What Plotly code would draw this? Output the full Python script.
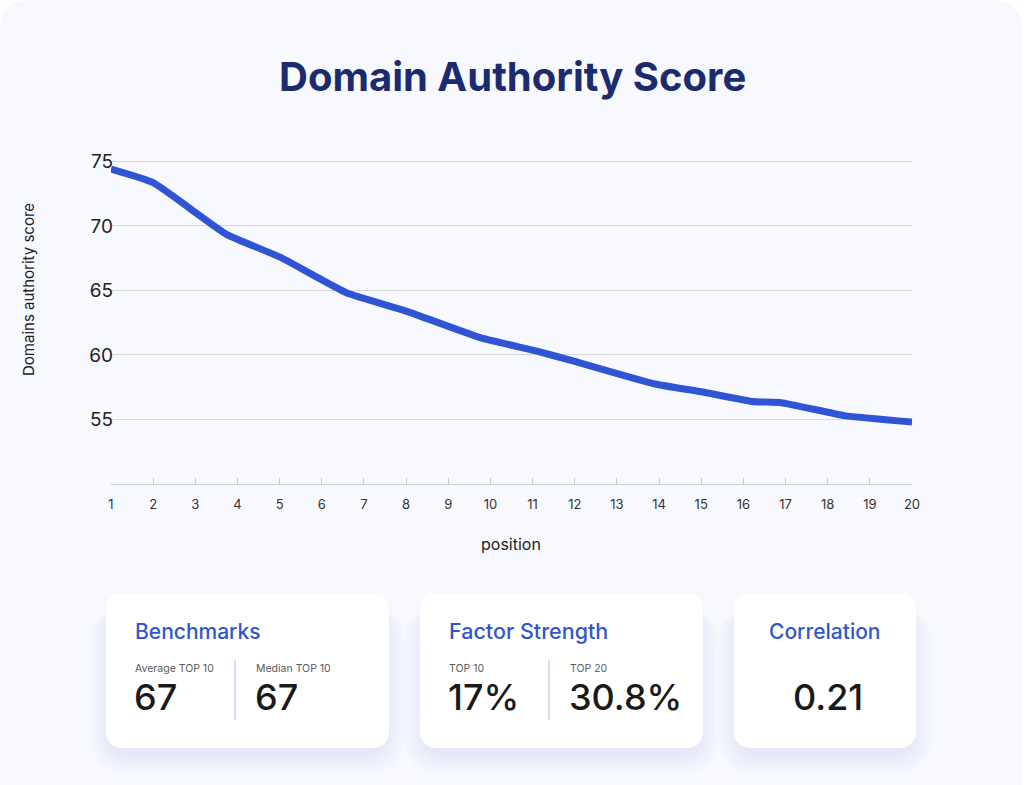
import plotly.graph_objects as go

# ---- data ----
positions = [1, 2, 3.74, 5, 6.6, 8, 9.8, 11.1, 12, 13.9, 15, 16.2, 16.9, 18.4, 20]
scores = [74.4, 73.35, 69.35, 67.6, 64.8, 63.4, 61.3, 60.3, 59.5, 57.75, 57.15, 56.4, 56.3, 55.3, 54.8]
x_ticks = list(range(1, 21))
y_ticks = [55, 60, 65, 70, 75]

title_text = "Domain Authority Score"
y_title = "Domains authority score"
x_title = "position"

card_titles = ["Benchmarks", "Factor Strength", "Correlation"]
bench_labels = ["Average TOP 10", "Median TOP 10"]
bench_values = ["67", "67"]
factor_labels = ["TOP 10", "TOP 20"]
factor_values = ["17%", "30.8%"]
correlation_value = "0.21"

# ---- layout geometry (pixels) ----
W, H = 1024, 785
L, R, T, B = 111, 912, 155, 484
FONT = "Inter"
BLUE = "#2F55D4"


def px(xp):
    return (xp - L) / (R - L)


def py(yp):
    return (B - yp) / (B - T)


def rrect(x0, y0, x1, y1, r):
    # rounded rectangle path in paper coords, given pixel coords
    X0, X1 = px(x0), px(x1)
    Y0, Y1 = py(y0), py(y1)  # Y0 top, Y1 bottom
    rx = r / (R - L)
    ry = r / (B - T)
    return (f"M {X0+rx},{Y0} L {X1-rx},{Y0} Q {X1},{Y0} {X1},{Y0-ry} "
            f"L {X1},{Y1+ry} Q {X1},{Y1} {X1-rx},{Y1} L {X0+rx},{Y1} "
            f"Q {X0},{Y1} {X0},{Y1+ry} L {X0},{Y0-ry} Q {X0},{Y0} {X0+rx},{Y0} Z")


fig = go.Figure()
fig.add_trace(go.Scatter(
    x=positions, y=scores, mode="lines",
    line=dict(color=BLUE, width=7, shape="spline", smoothing=0.4),
    hoverinfo="skip", showlegend=False,
))

shapes = []
# outer background card
shapes.append(dict(type="path", xref="paper", yref="paper", path=rrect(0, 0, 1022, 830, 30),
                   fillcolor="#F7F9FE", line=dict(width=0), layer="below"))

cards = [(106, 593, 389, 748), (420, 593, 703, 748), (734, 593, 916, 748)]
for (x0, y0, x1, y1) in cards:
    for i in range(6):
        g = 2 + i * 4
        shapes.append(dict(type="path", xref="paper", yref="paper",
                           path=rrect(x0 - g + 6, y0 + 14, x1 + g - 6, y1 + g + 4, 18 + g),
                           fillcolor="rgba(175,195,240,0.045)", line=dict(width=0), layer="below"))
    shapes.append(dict(type="path", xref="paper", yref="paper", path=rrect(x0, y0, x1, y1, 18),
                       fillcolor="#FFFFFF", line=dict(width=0), layer="below"))

for xd in (235, 549):
    shapes.append(dict(type="line", xref="paper", yref="paper", x0=px(xd), x1=px(xd),
                       y0=py(660), y1=py(720), line=dict(color="#B8CDEB", width=1.3), layer="below"))

ann = []


def add_text(text, x, y, size, color, xanchor="left", weight="normal"):
    ann.append(dict(text=text, x=px(x), y=py(y), xref="paper", yref="paper",
                    xanchor=xanchor, yanchor="middle", showarrow=False,
                    font=dict(family=FONT, size=size, color=color, weight=weight)))


add_text(title_text, 512, 77, 40, "#1B2B6E", "center", "bold")
ann.append(dict(text=y_title, x=px(28), y=py(290), xref="paper", yref="paper",
                xanchor="center", yanchor="middle", showarrow=False, textangle=-90,
                font=dict(family=FONT, size=15, color="#222222")))
add_text(x_title, 511, 544, 16, "#222222", "center")

CARD_BLUE = "#3157CB"
add_text(card_titles[0], 133, 631, 21, CARD_BLUE, weight=500)
add_text(card_titles[1], 447, 631, 21.5, CARD_BLUE, weight=500)
add_text(card_titles[2], 825, 631, 21, CARD_BLUE, "center", weight=500)

for lbl, val, xx in zip(bench_labels, bench_values, (133, 254)):
    add_text(lbl, xx, 668, 10.5, "#5A5A5A")
    add_text(val, xx - 1, 697, 36, "#1A1A1A", weight=500)
for lbl, val, xx in zip(factor_labels, factor_values, (447, 568)):
    add_text(lbl, xx, 668, 10.5, "#5A5A5A")
    add_text(val, xx - 1, 697, 36, "#1A1A1A", weight=500)
add_text(correlation_value, 828, 697, 36, "#1A1A1A", "center", weight=500)

fig.update_layout(
    width=W, height=H,
    margin=dict(l=L, r=W - R, t=T, b=H - B, pad=0),
    paper_bgcolor="#FFFFFF",
    plot_bgcolor="rgba(0,0,0,0)",
    font=dict(family=FONT),
    showlegend=False,
    shapes=shapes,
    annotations=ann,
    xaxis=dict(
        range=[1, 20], tickvals=x_ticks, ticktext=[str(v) for v in x_ticks],
        showgrid=False, zeroline=False,
        showline=True, linecolor="#C9CBD2", linewidth=1.3,
        ticks="inside", ticklen=6, tickcolor="#C9CBD2", tickwidth=1.2,
        tickfont=dict(family=FONT, size=13, color="#333333"),
        ticklabelstandoff=8,
    ),
    yaxis=dict(
        range=[50, 75.5], tickvals=y_ticks, ticktext=[str(v) for v in y_ticks],
        showgrid=True, gridcolor="#D7D9DF", gridwidth=1,
        zeroline=False, showline=False, ticks="",
        tickfont=dict(family=FONT, size=19, color="#222222"),
        ticklabelstandoff=-3,
    ),
)

fig.write_html("out.html", config={"displayModeBar": False},
               post_script="document.body.style.margin='0';document.body.style.overflow='hidden';")
